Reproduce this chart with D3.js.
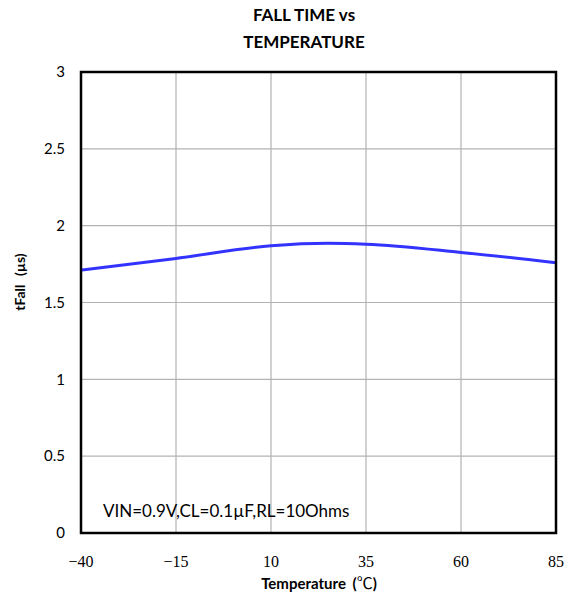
<!DOCTYPE html>
<html><head><meta charset="utf-8">
<script src="https://cdn.jsdelivr.net/npm/d3@7"></script>
<style>body{margin:0;background:#fff}svg{display:block}</style>
</head><body>
<svg id="c" width="567" height="599"></svg>
<script>
const temps = [-40, -15, 10, 25, 35, 60, 85];
const tFall = [1.711, 1.787, 1.869, 1.885, 1.879, 1.826, 1.759];
const xTicks = [-40, -15, 10, 35, 60, 85];
const yTicks = [0, 0.5, 1, 1.5, 2, 2.5, 3];
const titleLines = ["FALL TIME vs", "TEMPERATURE"];
const xTitleParts = ["Temperature ", "(", "\u2103", ")"];
const yTitleParts = ["tFall ", "(µs)"];
const note = "VIN=0.9V,CL=0.1µF,RL=10Ohms";

const svg = d3.select("#c");
const L = 81, R = 556, T = 72, B = 533;
const x = d3.scaleLinear().domain([-40, 85]).range([L, R]);
const y = d3.scaleLinear().domain([0, 3]).range([B, T]);
const sans = "Lato, 'Open Sans', sans-serif";

// grid
svg.append("g").selectAll("line").data(xTicks.slice(1, -1)).join("line")
  .attr("x1", d => x(d)).attr("x2", d => x(d)).attr("y1", T).attr("y2", B)
  .attr("stroke", "#b3b3b3").attr("stroke-width", 1.2);
svg.append("g").selectAll("line").data(yTicks.slice(1, -1)).join("line")
  .attr("y1", d => y(d)).attr("y2", d => y(d)).attr("x1", L).attr("x2", R)
  .attr("stroke", "#b3b3b3").attr("stroke-width", 1.2);

// line
const line = d3.line().x((d, i) => x(temps[i])).y(d => y(d)).curve(d3.curveMonotoneX);
svg.append("path").datum(tFall).attr("d", line).attr("fill", "none")
  .attr("stroke", "#3333ff").attr("stroke-width", 3);

// frame
svg.append("rect").attr("x", L).attr("y", T).attr("width", R - L).attr("height", B - T)
  .attr("fill", "none").attr("stroke", "#000").attr("stroke-width", 2.5);

// y tick labels
svg.append("g").selectAll("text").data(yTicks).join("text")
  .attr("x", 65).attr("y", d => y(d)).attr("dy", "0.35em")
  .attr("text-anchor", "end").attr("font-family", sans).attr("font-size", 15)
  .attr("fill", "#000").text(d => d);

// x tick labels (serif)
svg.append("g").selectAll("text").data(xTicks).join("text")
  .attr("x", d => x(d)).attr("y", 567).attr("text-anchor", "middle")
  .attr("font-family", "'Liberation Serif', 'DejaVu Serif', serif").attr("font-size", 16)
  .attr("fill", "#000").text(d => d < 0 ? "\u2212" + Math.abs(d) : d);

// titles
svg.append("g").selectAll("text").data(titleLines).join("text")
  .attr("x", 304).attr("y", (d, i) => 21 + i * 27).attr("text-anchor", "middle")
  .attr("font-family", sans).attr("font-weight", "bold").attr("font-size", 17)
  .text(d => d);

const xt = svg.append("text").attr("x", 319).attr("y", 589).attr("text-anchor", "middle")
  .attr("font-family", sans).attr("font-weight", "bold").attr("font-size", 15)
  .attr("xml:space", "preserve");
xt.selectAll("tspan").data(xTitleParts).join("tspan")
  .attr("font-weight", (d, i) => i === 2 ? "normal" : "bold")
  .attr("font-family", (d, i) => i === 2 ? "'Noto Sans CJK SC', sans-serif" : sans)
  .attr("font-size", (d, i) => i === 2 ? 16 : 15)
  .attr("dx", (d, i) => i === 1 ? 3 : 0)
  .text(d => d);

const yt = svg.append("text").attr("transform", "translate(25,282) rotate(-90)")
  .attr("text-anchor", "middle").attr("font-family", sans).attr("font-weight", "bold")
  .attr("font-size", 14);
yt.selectAll("tspan").data(yTitleParts).join("tspan")
  .attr("dx", (d, i) => i === 1 ? 5 : 0).text(d => d);

svg.append("text").attr("x", 103).attr("y", 517).attr("font-family", sans)
  .attr("font-size", 17).text(note);
</script>
</body></html>
